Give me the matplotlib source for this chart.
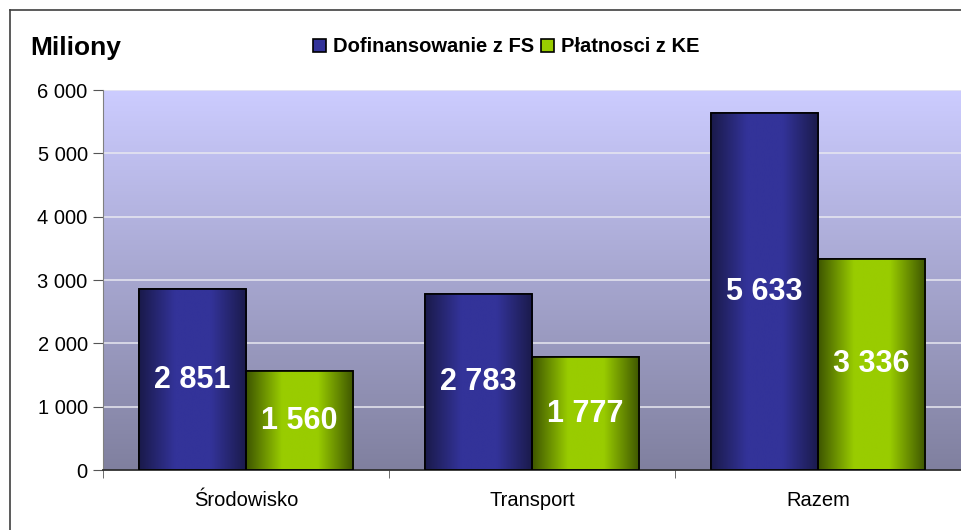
"""Dofinansowanie z FS vs Płatnosci z KE (mln)"""
import numpy as np
import matplotlib
matplotlib.use('Agg')
import matplotlib.pyplot as plt
from matplotlib.colors import LinearSegmentedColormap
from matplotlib.lines import Line2D
from matplotlib.ticker import FuncFormatter

plt.rcParams['font.family'] = ['Liberation Sans', 'DejaVu Sans']

categories = ['Środowisko', 'Transport', 'Razem']
series_names = ['Dofinansowanie z FS', 'Płatnosci z KE']
fs_values = [2851, 2783, 5633]
ke_values = [1560, 1777, 3336]
y_ticks = [0, 1000, 2000, 3000, 4000, 5000, 6000]

BLUE_MID = '#333399'
BLUE_EDGE = '#1a1a4a'
GREEN_MID = '#99cc00'
GREEN_EDGE = '#3d5500'

fig = plt.figure(figsize=(9.62, 5.30), dpi=100)
fig.patch.set_facecolor('white')
ax = fig.add_axes([103/962, 60/530, 858/962, 380/530])

# plot-area background gradient (light lavender -> grey-violet)
bg = LinearSegmentedColormap.from_list('bg', ['#80809f', '#ccccff'])
ax.imshow(np.linspace(0, 1, 256).reshape(-1, 1), cmap=bg, origin='lower',
          extent=[0, 1, 0, 1], transform=ax.transAxes, aspect='auto', zorder=0)

# gridlines
for t in y_ticks[1:]:
    ax.axhline(t, color='#e8e8f0', lw=1.1, zorder=1)

x = np.arange(len(categories))
w = 0.375

def shaded_bars(xpos, vals, mid, edge, label):
    bars = ax.bar(xpos, vals, w, color=mid, edgecolor='black', lw=1.2,
                  zorder=2, label=label)
    cmap = LinearSegmentedColormap.from_list('g', [edge, mid, mid, edge])
    grad = np.linspace(0, 1, 256).reshape(1, -1)
    for b in bars:
        im = ax.imshow(grad, cmap=cmap, aspect='auto', zorder=2.5,
                       extent=[b.get_x(), b.get_x() + b.get_width(), 0, b.get_height()])
        im.set_clip_path(b)
    ax.bar(xpos, vals, w, fill=False, edgecolor='black', lw=1.2, zorder=3)
    for b, v in zip(bars, vals):
        ax.text(b.get_x() + b.get_width()/2, v/2, f'{v:,}'.replace(',', ' '),
                ha='center', va='center', color='white', fontsize=22,
                fontweight='bold', zorder=4)
    return bars

shaded_bars(x - w/2, fs_values, BLUE_MID, BLUE_EDGE, series_names[0])
shaded_bars(x + w/2, ke_values, GREEN_MID, GREEN_EDGE, series_names[1])

ax.set_xlim(-0.5, len(categories) - 0.5)
ax.set_ylim(0, 6000)
ax.set_yticks(y_ticks)
ax.yaxis.set_major_formatter(FuncFormatter(lambda v, p: f'{int(v):,}'.replace(',', ' ')))
ax.set_xticks(x)
ax.set_xticklabels(categories)
ax.set_xticks(np.arange(len(categories) + 1) - 0.5, minor=True)
ax.tick_params(axis='x', which='major', length=0, pad=15, labelsize=14.5)
ax.tick_params(axis='x', which='minor', length=6, color='#555555')
ax.tick_params(axis='y', length=7, color='#555555', labelsize=14.5, pad=4)
for s in ['top', 'right']:
    ax.spines[s].set_visible(False)
ax.spines['left'].set_color('#808080')
ax.spines['bottom'].set_color('#303030')
ax.spines['bottom'].set_linewidth(1.3)

fig.text(30/962, 1 - 48/530, 'Miliony', fontsize=19, fontweight='bold',
         ha='left', va='center')

handles, labels = ax.get_legend_handles_labels()
leg = fig.legend(handles, labels, loc='center', bbox_to_anchor=(506/962, 1 - 47/530),
                 ncol=2, frameon=False, handlelength=0.65, handleheight=0.65,
                 handletextpad=0.35, columnspacing=0.35,
                 prop={'size': 14.5, 'weight': 'bold'})

# chart frame (left and top edges visible)
fig.add_artist(Line2D([10/962, 10/962], [0, 1 - 10/530], color='#404040', lw=1.2,
                      transform=fig.transFigure))
fig.add_artist(Line2D([10/962, 1], [1 - 10/530, 1 - 10/530], color='#404040', lw=1.2,
                      transform=fig.transFigure))

fig.savefig('out.png', dpi=100, facecolor='white')
